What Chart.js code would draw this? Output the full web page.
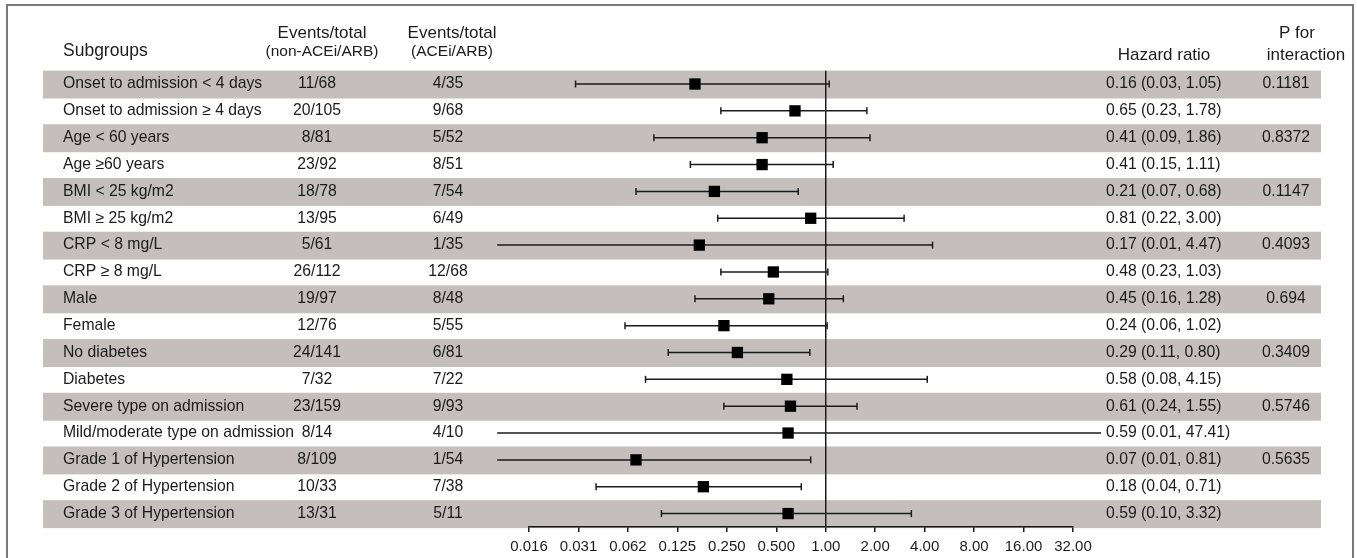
<!DOCTYPE html>
<html>
<head>
<meta charset="utf-8">
<script src="https://cdn.jsdelivr.net/npm/chart.js@4.4.0/dist/chart.umd.min.js"></script>
<style>
  html, body { margin: 0; padding: 0; background: #fff; }
  #forest { display: block; }
</style>
</head>
<body>
<canvas id="forest" width="1357" height="558"></canvas>
<script>
// Subgroup rows (top to bottom)
const subgroups = [
  'Onset to admission < 4 days', 'Onset to admission \u2265 4 days',
  'Age < 60 years', 'Age \u226560 years',
  'BMI < 25 kg/m2', 'BMI \u2265 25 kg/m2',
  'CRP < 8 mg/L', 'CRP \u2265 8 mg/L',
  'Male', 'Female',
  'No diabetes', 'Diabetes',
  'Severe type on admission', 'Mild/moderate type on admission',
  'Grade 1 of Hypertension', 'Grade 2 of Hypertension', 'Grade 3 of Hypertension'
];
const eventsNonAce = ['11/68', '20/105', '8/81', '23/92', '18/78', '13/95', '5/61', '26/112', '19/97',
  '12/76', '24/141', '7/32', '23/159', '8/14', '8/109', '10/33', '13/31'];
const eventsAce = ['4/35', '9/68', '5/52', '8/51', '7/54', '6/49', '1/35', '12/68', '8/48',
  '5/55', '6/81', '7/22', '9/93', '4/10', '1/54', '7/38', '5/11'];
const hazard = [0.16, 0.65, 0.41, 0.41, 0.21, 0.81, 0.17, 0.48, 0.45, 0.24, 0.29, 0.58, 0.61, 0.59, 0.07, 0.18, 0.59];
const lower  = [0.03, 0.23, 0.09, 0.15, 0.07, 0.22, 0.01, 0.23, 0.16, 0.06, 0.11, 0.08, 0.24, 0.01, 0.01, 0.04, 0.10];
const upper  = [1.05, 1.78, 1.86, 1.11, 0.68, 3.00, 4.47, 1.03, 1.28, 1.02, 0.80, 4.15, 1.55, 47.41, 0.81, 0.71, 3.32];
const pInteraction = ['0.1181', '', '0.8372', '', '0.1147', '', '0.4093', '', '0.694', '',
  '0.3409', '', '0.5746', '', '0.5635', '', ''];

const tickValues = [0.015625, 0.03125, 0.0625, 0.125, 0.25, 0.5, 1, 2, 4, 8, 16, 32];
const tickLabels = ['0.016', '0.031', '0.062', '0.125', '0.250', '0.500', '1.00', '2.00', '4.00', '8.00', '16.00', '32.00'];

const FONT = "'Liberation Sans', Arial, sans-serif";
const INK = '#1b1b1b';
const BAND = '#c4bfbc';
const BODY = 15.75;

// one short line per confidence interval, with vertical caps at both ends
const ciSets = subgroups.map((s, i) => ({
  type: 'line',
  data: [{ x: lower[i], y: i }, { x: upper[i], y: i }],
  borderColor: INK,
  borderWidth: 1.5,
  pointStyle: 'line',
  pointRotation: 90,
  pointRadius: 3.5,
  pointBorderColor: INK,
  pointBorderWidth: 1.5,
  clip: false,
  order: 2
}));

// table text + grey bands + frame
const forestTable = {
  id: 'forestTable',
  beforeDraw(chart) {
    const { ctx } = chart;
    const y = chart.scales.y;
    ctx.save();
    ctx.fillStyle = '#fff';
    ctx.fillRect(0, 0, chart.width, chart.height);
    ctx.strokeStyle = '#7a7a7a';
    ctx.lineWidth = 2;
    ctx.strokeRect(7, 5, 1346, 600);
    ctx.fillStyle = BAND;
    for (let i = 0; i < subgroups.length; i += 2) {
      const top = y.getPixelForValue(i - 0.5);
      const bot = y.getPixelForValue(i + 0.54);
      ctx.fillRect(43, top, 1321 - 43, bot - top);
    }
    ctx.restore();
  },
  afterDraw(chart) {
    const { ctx } = chart;
    const y = chart.scales.y;
    const txt = (s, x, yy, align, size) => {
      ctx.font = size + 'px ' + FONT;
      ctx.textAlign = align;
      ctx.fillText(s, x, yy);
    };
    ctx.save();
    ctx.fillStyle = INK;
    ctx.textBaseline = 'middle';

    // headers
    txt('Subgroups', 63, 51, 'left', 17.5);
    txt('Events/total', 322, 33, 'center', 17);
    txt('(non-ACEi/ARB)', 322, 52, 'center', 15.5);
    txt('Events/total', 452, 33, 'center', 17);
    txt('(ACEi/ARB)', 452, 52, 'center', 15.5);
    txt('Hazard ratio', 1164, 55, 'center', 17);
    txt('P for', 1297, 33, 'center', 17);
    txt('interaction', 1306, 55, 'center', 17);

    subgroups.forEach((s, i) => {
      const yy = y.getPixelForValue(i);
      txt(s, 63, yy, 'left', BODY);
      txt(eventsNonAce[i], 317, yy, 'center', BODY);
      txt(eventsAce[i], 448, yy, 'center', BODY);
      const hr = hazard[i].toFixed(2) + ' (' + lower[i].toFixed(2) + ', ' + upper[i].toFixed(2) + ')';
      txt(hr, 1106, yy, 'left', BODY);
      if (pInteraction[i]) txt(pInteraction[i], 1286, yy, 'center', BODY);
    });
    ctx.restore();
  }
};

new Chart(document.getElementById('forest'), {
  type: 'scatter',
  data: {
    datasets: [
      {
        type: 'line',
        data: [{ x: 1, y: -0.5 }, { x: 1, y: subgroups.length - 0.5 }],
        borderColor: INK,
        borderWidth: 1.5,
        pointRadius: 0,
        order: 3
      },
      ...ciSets,
      {
        data: hazard.map((v, i) => ({ x: v, y: i })),
        pointStyle: 'rect',
        pointRadius: 8,
        pointBackgroundColor: '#000',
        pointBorderWidth: 0,
        clip: false,
        order: 1
      }
    ]
  },
  options: {
    responsive: false,
    animation: false,
    events: [],
    layout: { padding: { left: 529, right: 284, top: 70.6, bottom: -4 } },
    plugins: { legend: { display: false }, tooltip: { enabled: false } },
    scales: {
      x: {
        type: 'logarithmic',
        min: 0.015625,
        max: 32,
        afterBuildTicks: (scale) => { scale.ticks = tickValues.map(v => ({ value: v })); },
        ticks: {
          callback: (v, i) => tickLabels[i],
          color: INK,
          font: { family: FONT, size: 15 },
          padding: 6,
          maxRotation: 0,
          autoSkip: false
        },
        grid: { drawOnChartArea: false, drawTicks: true, tickLength: 5, color: INK, lineWidth: 1.5 },
        border: { display: true, color: INK, width: 1.5 }
      },
      y: {
        type: 'linear',
        min: -0.5,
        max: subgroups.length - 0.5,
        reverse: true,
        display: false
      }
    }
  },
  plugins: [forestTable]
});
</script>
</body>
</html>
